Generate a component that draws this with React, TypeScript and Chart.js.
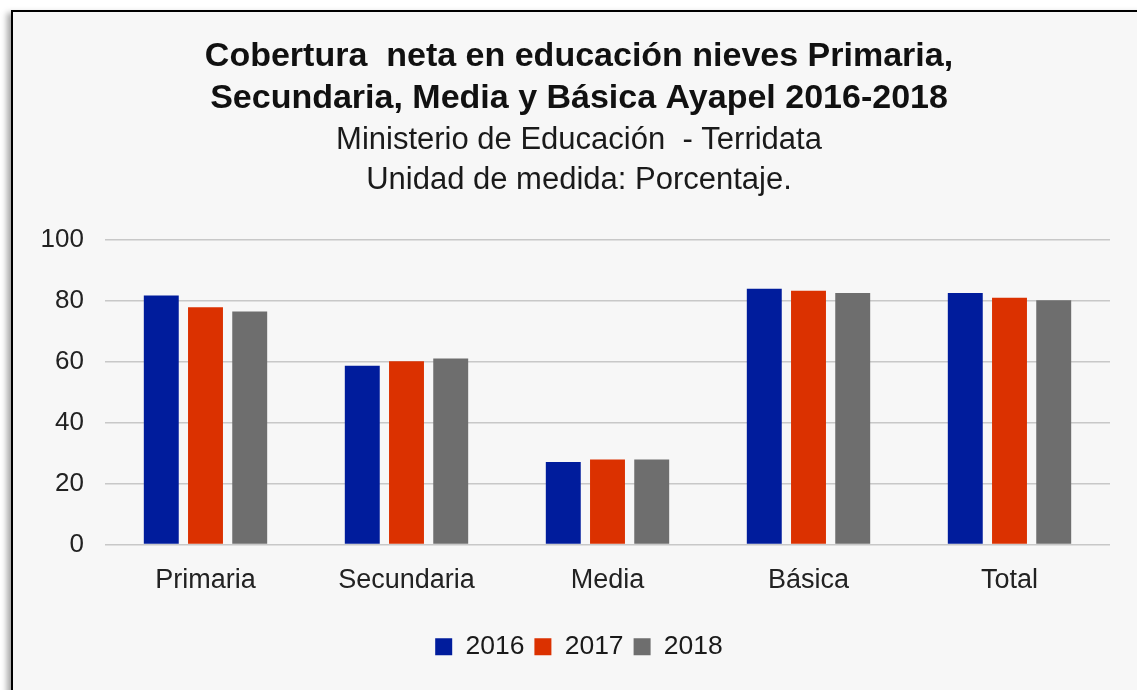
import React, { useEffect, useRef } from "react";
import { Chart, registerables } from "chart.js";

Chart.register(...registerables);

const categories = ["Primaria", "Secundaria", "Media", "Básica", "Total"];
const seriesLabels = ["2016", "2017", "2018"];
const values2016 = [81.8, 58.7, 27.1, 84.0, 82.6];
const values2017 = [77.9, 60.2, 27.9, 83.3, 81.0];
const values2018 = [76.5, 61.1, 27.9, 82.6, 80.2];
const seriesColors = ["#001c9c", "#db3100", "#6e6e6e"];
const yMin = 0;
const yMax = 100;
const yStep = 20;
const titleLines = [
  "Cobertura  neta en educación nieves Primaria,",
  "Secundaria, Media y Básica Ayapel 2016-2018",
];
const subtitleLines = [
  "Ministerio de Educación  - Terridata",
  "Unidad de medida: Porcentaje.",
];

const FONT = "'Liberation Sans', Arial, sans-serif";

export default function App() {
  const ref = useRef<HTMLCanvasElement | null>(null);

  useEffect(() => {
    if (!ref.current) return;
    const seriesValues = [values2016, values2017, values2018];
    const chart = new Chart(ref.current, {
      type: "bar",
      data: {
        labels: categories,
        datasets: seriesLabels.map((label, i) => ({
          label,
          data: seriesValues[i],
          backgroundColor: seriesColors[i],
          borderWidth: 0,
          categoryPercentage: 0.66,
          barPercentage: 0.79,
          yAxisID: "y",
        })),
      },
      options: {
        animation: false,
        responsive: false,
        maintainAspectRatio: false,
        layout: { padding: { left: 0, right: 0, top: 0, bottom: 18 } },
        plugins: {
          title: {
            display: true,
            text: titleLines,
            color: "#111",
            font: { family: FONT, size: 34, weight: "bold", lineHeight: 42 / 34 },
            padding: { top: 24, bottom: 0 },
          },
          subtitle: {
            display: true,
            text: subtitleLines,
            color: "#1a1a1a",
            font: { family: FONT, size: 31, lineHeight: 40 / 31 },
            padding: { top: 0, bottom: 40 },
          },
          legend: {
            position: "bottom",
            labels: {
              boxWidth: 17,
              boxHeight: 17,
              padding: 10,
              color: "#1a1a1a",
              font: { family: FONT, size: 26.5 },
            },
          },
          tooltip: { enabled: false },
        },
        scales: {
          x: {
            grid: { display: false },
            border: { display: false },
            ticks: { color: "#222", padding: 12, font: { family: FONT, size: 27 } },
            afterFit: (scale: any) => {
              scale.height = 79;
            },
          },
          y: {
            min: yMin,
            max: yMax,
            border: { display: false },
            grid: { color: "#c8c8c8", lineWidth: 1.5, drawTicks: false },
            ticks: {
              stepSize: yStep,
              color: "#222",
              padding: 21,
              font: { family: FONT, size: 26 },
            },
            afterFit: (scale: any) => {
              scale.width = 92;
            },
          },
          yRight: {
            position: "right",
            min: yMin,
            max: yMax,
            border: { display: false },
            grid: { display: false, drawTicks: false },
            ticks: { display: false },
            afterFit: (scale: any) => {
              scale.width = 35;
            },
          },
        },
      },
    });
    return () => chart.destroy();
  }, []);

  return (
    <div
      style={{
        position: "fixed",
        left: 0,
        top: 0,
        width: 1137,
        height: 690,
        overflow: "hidden",
        background: "#ffffff",
      }}
    >
      <div
        style={{
          position: "absolute",
          left: 11,
          top: 10,
          width: 1140,
          height: 700,
          border: "2px solid #000",
          background: "#f7f7f7",
          boxShadow: "-4px 3px 6px rgba(0,0,0,0.35)",
        }}
      >
        <canvas ref={ref} width={1132} height={676} style={{ display: "block" }} />
      </div>
    </div>
  );
}
